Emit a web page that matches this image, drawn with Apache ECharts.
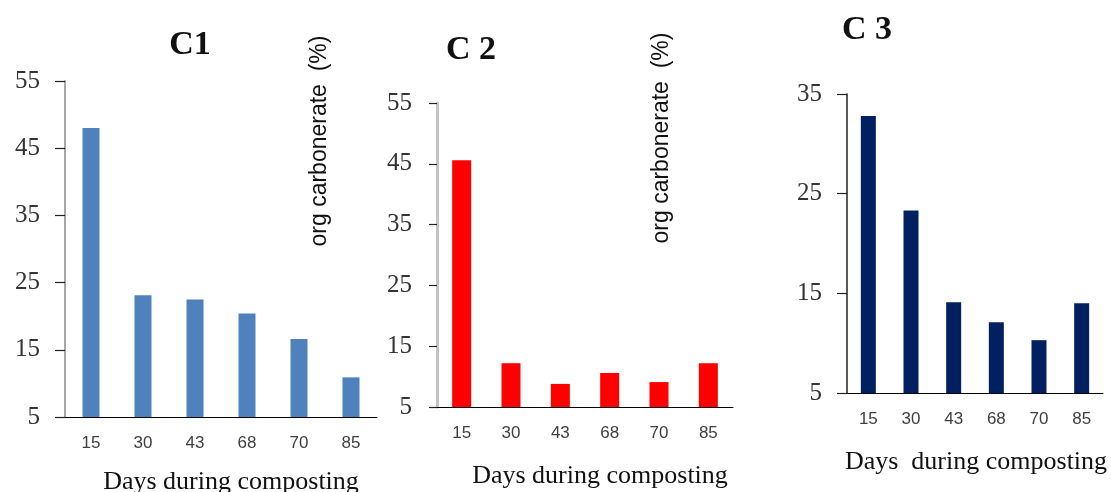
<!DOCTYPE html>
<html>
<head>
<meta charset="utf-8">
<script src="https://cdn.jsdelivr.net/npm/echarts@6/dist/echarts.min.js"></script>
<style>
  html, body { margin: 0; padding: 0; background: #fff; }
  #chart { width: 1111px; height: 492px; }
</style>
</head>
<body>
<div id="chart"></div>
<script>
// Days of composting (categories) and org carbonerate values (%) per compost
const days = ['15', '30', '43', '68', '70', '85'];
const c1Values = [48.0, 23.1, 22.5, 20.4, 16.6, 10.9];
const c2Values = [45.6, 12.2, 8.8, 10.6, 9.1, 12.2];
const c3Values = [32.8, 23.3, 14.1, 12.1, 10.3, 14.0];

// Tick values of the three value axes
const c1Ticks = [5, 15, 25, 35, 45, 55];
const c2Ticks = [5, 15, 25, 35, 45, 55];
const c3Ticks = [5, 15, 25, 35];

const panelTitles = ['C1', 'C 2', 'C 3'];
const xTitles = ['Days during composting', 'Days during composting', 'Days  during composting'];
const yTitle = 'org carbonerate  (%)';

// Layout and styling for each of the three small bar charts
const panels = [
  {
    values: c1Values, ticks: c1Ticks, color: '#4F81BD', barWidth: 17,
    grid: { left: 65, top: 81, width: 312, height: 336 },
    yLine: { color: '#a6a6a6', width: 2 }, tickLen: 10,
    title: { x: 190, y: 45 }, xTitle: { x: 231, y: 482 }, yName: { x: 320, y: 141 }
  },
  {
    values: c2Values, ticks: c2Ticks, color: '#FF0000', barWidth: 19,
    grid: { left: 437, top: 103, width: 296, height: 304 },
    yLine: { color: '#c4c4c4', width: 3 }, tickLen: 8,
    title: { x: 471, y: 50 }, xTitle: { x: 600, y: 476 }, yName: { x: 662, y: 138 }
  },
  {
    values: c3Values, ticks: c3Ticks, color: '#002060', barWidth: 15,
    grid: { left: 847, top: 94, width: 256, height: 299 },
    yLine: { color: '#222', width: 1.5 }, tickLen: 10,
    title: { x: 867, y: 30 }, xTitle: { x: 976, y: 462 }, yName: null
  }
];

const chart = echarts.init(document.getElementById('chart'), null, { renderer: 'canvas' });

const grids = [], xAxes = [], yAxes = [], series = [], graphics = [];

panels.forEach((p, i) => {
  grids.push(Object.assign({ containLabel: false }, p.grid));

  xAxes.push({
    type: 'category',
    gridIndex: i,
    data: days,
    axisLine: { show: true, lineStyle: { color: '#000', width: 1 } },
    axisTick: { show: false },
    axisLabel: {
      margin: 18,
      fontFamily: 'Liberation Sans, Arial, sans-serif',
      fontSize: 17,
      color: '#404040'
    },
    splitLine: { show: false }
  });

  yAxes.push({
    type: 'value',
    gridIndex: i,
    min: p.ticks[0],
    max: p.ticks[p.ticks.length - 1],
    axisLine: { show: true, lineStyle: { color: p.yLine.color, width: p.yLine.width } },
    axisTick: {
      show: true, inside: false, length: p.tickLen,
      customValues: p.ticks,
      lineStyle: { color: '#222', width: 1.2 }
    },
    axisLabel: {
      customValues: p.ticks,
      margin: 25,
      fontFamily: 'Liberation Serif, Times New Roman, serif',
      fontSize: 25,
      color: '#333'
    },
    splitLine: { show: false }
  });

  series.push({
    type: 'bar',
    xAxisIndex: i,
    yAxisIndex: i,
    data: p.values,
    barWidth: p.barWidth,
    itemStyle: { color: p.color },
    silent: true
  });

  graphics.push({
    type: 'text',
    x: p.title.x, y: p.title.y,
    style: {
      text: panelTitles[i],
      font: 'bold 34px "Liberation Serif", "Times New Roman", serif',
      fill: '#111',
      align: 'center', verticalAlign: 'middle',
      textAlign: 'center', textVerticalAlign: 'middle'
    }
  });

  graphics.push({
    type: 'text',
    x: p.xTitle.x, y: p.xTitle.y,
    style: {
      text: xTitles[i],
      font: '26px "Liberation Serif", "Times New Roman", serif',
      fill: '#111',
      align: 'center', verticalAlign: 'middle',
      textAlign: 'center', textVerticalAlign: 'middle'
    }
  });

  if (p.yName) {
    graphics.push({
      type: 'text',
      x: p.yName.x, y: p.yName.y,
      rotation: Math.PI / 2,
      style: {
        text: yTitle,
        font: '23px "Liberation Sans", Arial, sans-serif',
        fill: '#111',
        align: 'center', verticalAlign: 'middle',
        textAlign: 'center', textVerticalAlign: 'middle'
      }
    });
  }
});

chart.setOption({
  backgroundColor: '#fff',
  animation: false,
  grid: grids,
  xAxis: xAxes,
  yAxis: yAxes,
  series: series,
  graphic: graphics
});
</script>
</body>
</html>
